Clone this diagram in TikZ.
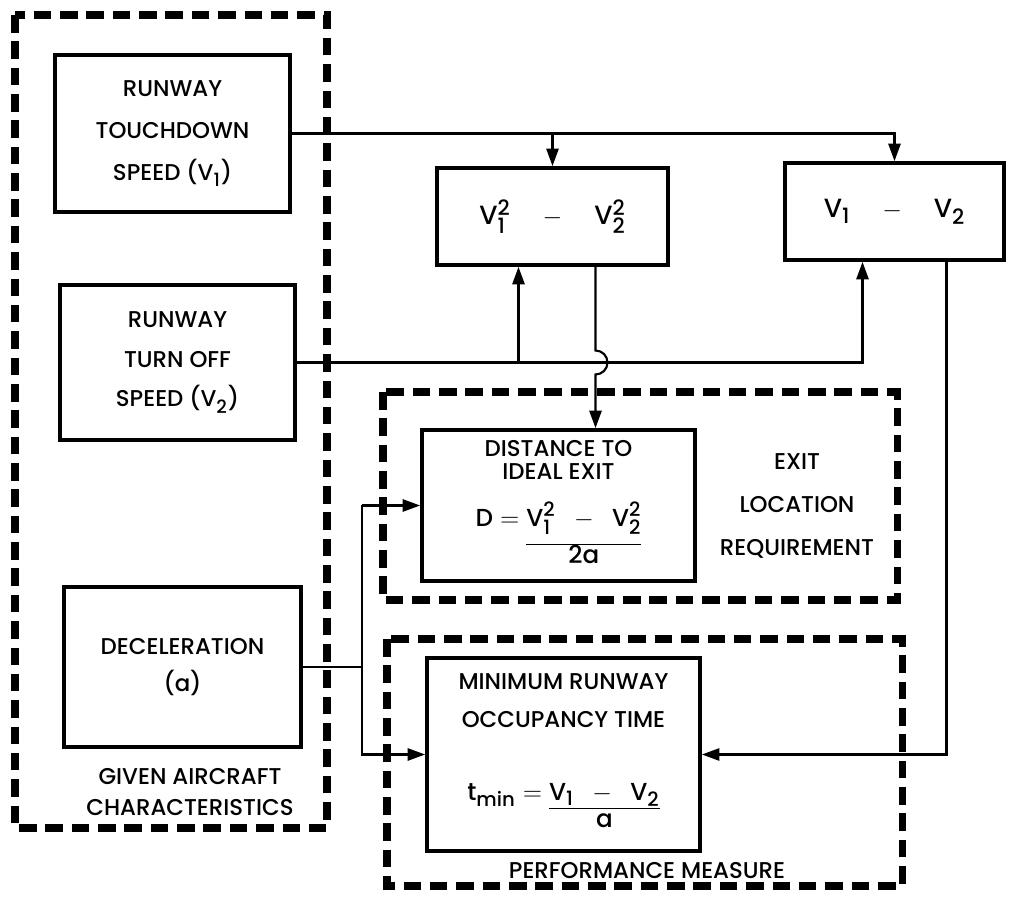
\documentclass[tikz,border=0pt]{standalone}
\usepackage{fontspec}
\setmainfont{Poppins Medium}
\usepackage{tikz}
\usetikzlibrary{arrows.meta, positioning, calc}

\def\defaultscriptratio{.8}
\newcommand{\Vq}[2]{\mathrm{V}_{\mathrm{#1}}^{\mathrm{#2}}}
\newcommand{\Vs}[1]{\mathrm{V}_{\mathrm{#1}}}

\tikzset{
    blockbox/.style={draw, line width=2.2pt, inner sep=0pt, align=center,
        font=\fontsize{13}{24}\selectfont},
    groupbox/.style={line width=4pt, dash pattern=on 10pt off 5pt},
    link/.style={line width=1.2pt},
    arr/.style={link, -{Triangle[length=10pt,width=7pt]}},
    grouplabel/.style={align=center, font=\fontsize{13}{24.5}\selectfont},
}

\begin{document}
\begin{tikzpicture}[x=0.02cm, y=-0.02cm]
    \useasboundingbox (0,0) rectangle (1010,901);

    % dashed groups
    \draw[groupbox] (15,15) rectangle (327,828);
    \draw[groupbox] (383,392) rectangle (897,600);
    \draw[groupbox] (387,639) rectangle (902,886);

    \node[grouplabel, font=\fontsize{13}{17.5}\selectfont] (givenlbl) at (190,792) {GIVEN AIRCRAFT\\CHARACTERISTICS};
    \node[grouplabel] (exitlbl) at (797,506) {EXIT\\LOCATION\\REQUIREMENT};
    \node[grouplabel] (perflbl) at (647,871) {PERFORMANCE MEASURE};

    % blocks
    \node[blockbox, minimum width=4.7cm, minimum height=3.14cm] (td) at (172.5,133.5)
        {RUNWAY\\TOUCHDOWN\\SPEED ($\Vs{1}$)};
    \node[blockbox, minimum width=4.7cm, minimum height=3.1cm,
          font=\fontsize{13}{22.5}\selectfont] (to) at (177.5,362.5)
        {RUNWAY\\TURN OFF\\SPEED ($\Vs{2}$)};
    \node[blockbox, minimum width=4.74cm, minimum height=3.2cm,
          font=\fontsize{13}{21.5}\selectfont] (dec) at (182.5,667)
        {DECELERATION\\(a)};
    \node[blockbox, minimum width=4.62cm, minimum height=1.94cm,
          font=\fontsize{15}{24}\selectfont] (sq) at (552.5,216.5)
        {$\Vq{1}{2}\quad-\quad\Vq{2}{2}$};
    \node[blockbox, minimum width=4.38cm, minimum height=1.94cm,
          font=\fontsize{15}{24}\selectfont] (df) at (894.5,211.5)
        {$\Vs{1}\quad-\quad\Vs{2}$};
    \node[blockbox, minimum width=5.46cm, minimum height=3.02cm,
          font=\fontsize{13}{13}\selectfont] (dist) at (558.5,505.5)
        {DISTANCE TO\\IDEAL EXIT\\[12pt]
         {\fontsize{14}{14}\selectfont
         $\mathrm{D} = \begin{array}[t]{@{}c@{}}\Vq{1}{2}\ \ -\ \ \Vq{2}{2}\\[6pt]\hline \mathrm{2a}\end{array}$}};
    \node[blockbox, minimum width=5.46cm, minimum height=3.86cm,
          font=\fontsize{13}{21.5}\selectfont] (tmin) at (563.5,754.5)
        {MINIMUM RUNWAY\\OCCUPANCY TIME\\[20pt]
         \renewcommand{\arraystretch}{0.7}%
         {\fontsize{14}{21.5}\selectfont
         $\mathrm{t}_{\mathrm{min}} = \begin{array}[t]{@{}c@{}}\Vs{1}\ \ -\ \ \Vs{2}\\\hline \mathrm{a}\end{array}$}};

    % connectors
    \coordinate (sqin) at ($(sq.south)+(-34,0)$);
    \coordinate (sqout) at ($(sq.south)+(43,0)$);
    \coordinate (dfin) at ($(df.south)+(-32,0)$);
    \coordinate (dfout) at ($(df.south)+(52,0)$);
    \coordinate (jn) at (362,667);

    \draw[arr] (td.east) -| (df.north);
    \draw[arr] (sq.north |- td.east) -- (sq.north);
    \draw[arr] (to.east) -| (dfin);
    \draw[arr] (sqin |- to.east) -- (sqin);
    \draw[arr] (sqout) -- ($(sqout |- to.east)+(0,-12)$)
        arc[start angle=-90, end angle=90, radius=12] -- (sqout |- dist.north);
    \draw[arr] (dfout) |- (tmin.east);
    \draw[link] (dec.east) -- (jn);
    \draw[arr] (jn |- dist.west) -- (dist.west);
    \draw[arr] (jn |- dist.west) |- (tmin.west);
\end{tikzpicture}
\end{document}
